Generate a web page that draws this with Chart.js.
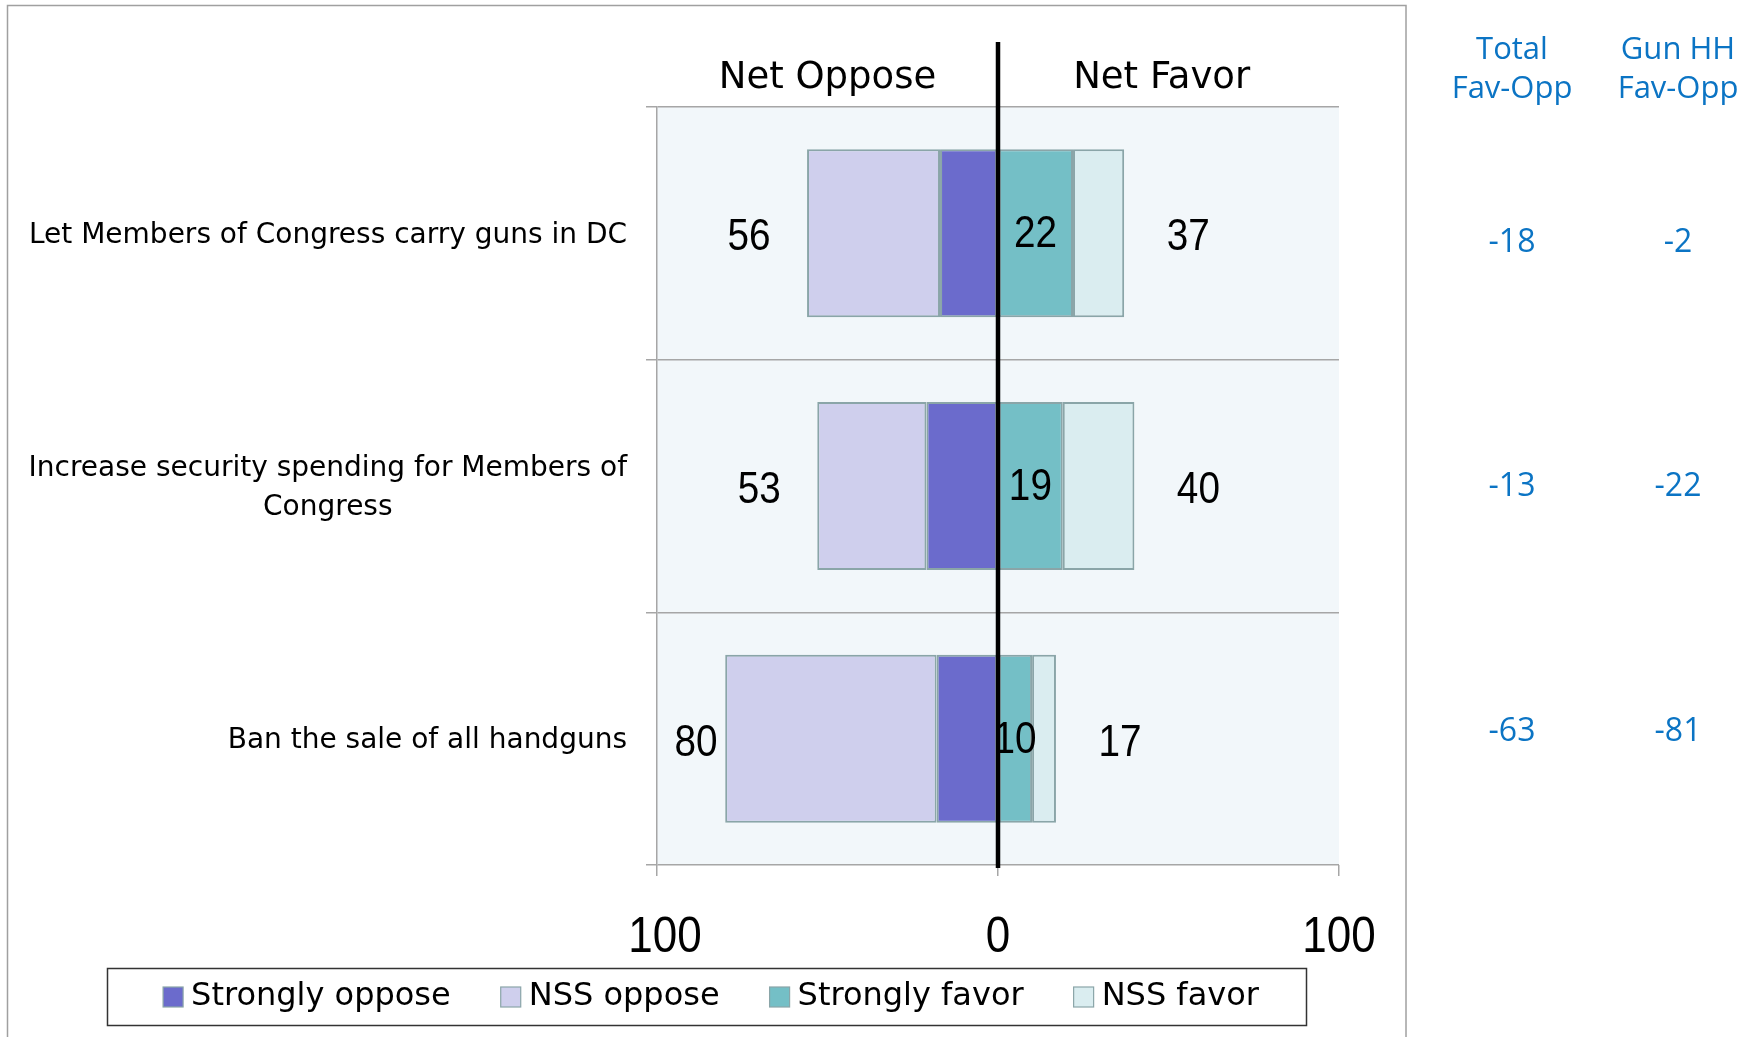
<!DOCTYPE html>
<html>
<head>
<meta charset="utf-8">
<script src="https://cdn.jsdelivr.net/npm/chart.js@4/dist/chart.umd.min.js"></script>
<style>
html,body{margin:0;padding:0;background:#fff;overflow:hidden}
canvas{display:block}
</style>
</head>
<body>
<canvas id="c" width="1754" height="1037"></canvas>
<script>
// ---- data ----
const categories = [
  ["Let Members of Congress carry guns in DC"],
  ["Increase security spending for Members of", "Congress"],
  ["Ban the sale of all handguns"]
];
const stronglyOppose = [17, 21, 18];
const nssOppose = [39, 32, 62];
const stronglyFavor = [22, 19, 10];
const nssFavor = [15, 21, 7];
const totalFavOpp = [-18, -13, -63];
const gunHHFavOpp = [-2, -22, -81];
const seriesNames = ["Strongly oppose", "NSS oppose", "Strongly favor", "NSS favor"];
const xTickValues = [-100, 0, 100];
const sideHeaders = ["Net Oppose", "Net Favor"];
const columnHeaders = [["Total", "Fav-Opp"], ["Gun HH", "Fav-Opp"]];

// ---- style ----
const TXT = '"DejaVu Sans", Verdana, sans-serif';
const NUM = '"Liberation Sans", Arial, sans-serif';
const NUM_SX = 0.88; // horizontal condensing for narrow numerals
const BLUEF = '"Open Sans", "DejaVu Sans", sans-serif';
const colors = ["#6B6BCC", "#CFCFED", "#74BFC6", "#DAEDF0"];
const barBorder = "#8AA5A8";
const gridColor = "#A6A6A6";

const datasets = [
  { label: seriesNames[0], data: stronglyOppose.map(v => -v), backgroundColor: colors[0] },
  { label: seriesNames[1], data: nssOppose.map(v => -v), backgroundColor: colors[1] },
  { label: seriesNames[2], data: stronglyFavor.slice(), backgroundColor: colors[2] },
  { label: seriesNames[3], data: nssFavor.slice(), backgroundColor: colors[3] }
].map(d => Object.assign(d, {
  borderColor: barBorder, borderWidth: 2, borderSkipped: false, stack: "s",
  categoryPercentage: 1.0, barPercentage: 0.665
}));

function narrowText(ctx, s, x, y) {
  ctx.save();
  ctx.translate(x, y);
  ctx.scale(NUM_SX, 1);
  ctx.fillText(s, 0, 0);
  ctx.restore();
}

const decorPlugin = {
  id: "decor",
  beforeDraw(chart) {
    const ctx = chart.ctx, ca = chart.chartArea;
    ctx.save();
    ctx.fillStyle = "#fff";
    ctx.fillRect(0, 0, chart.width, chart.height);
    ctx.strokeStyle = "#A0A0A0";
    ctx.lineWidth = 1.5;
    ctx.strokeRect(7.5, 5.5, 1398.5, 1045);
    ctx.fillStyle = "#F2F7FA";
    ctx.fillRect(ca.left, ca.top, ca.right - ca.left, ca.bottom - ca.top);
    ctx.restore();
  },
  afterDraw(chart) {
    const ctx = chart.ctx, ca = chart.chartArea;
    const xs = chart.scales.x, ys = chart.scales.y;
    ctx.save();
    ctx.fillStyle = "#000";
    ctx.textBaseline = "middle";

    // side headers
    ctx.font = "37px " + TXT;
    ctx.textAlign = "center";
    ctx.fillText(sideHeaders[0], xs.getPixelForValue(-50), 78);
    ctx.fillText(sideHeaders[1], xs.getPixelForValue(48), 78);

    // category labels
    ctx.font = "28px " + TXT;
    categories.forEach((lines, i) => {
      const yc = ys.getPixelForValue(i) + 2;
      const w = Math.max(...lines.map(l => ctx.measureText(l).width));
      const cx = 627 - w / 2;
      const lh = 39;
      lines.forEach((l, j) => {
        ctx.textAlign = "center";
        ctx.fillText(l, cx, yc + (j - (lines.length - 1) / 2) * lh);
      });
    });

    // x tick labels (narrow numerals), positioned by the x scale
    ctx.font = "50px " + NUM;
    ctx.textAlign = "center";
    const tickY = ca.bottom + 11 + 28 + 34;
    xs.ticks.forEach(t => {
      let px = xs.getPixelForValue(t.value);
      if (t.value === xs.min) px += 8;
      narrowText(ctx, String(Math.abs(t.value)), px, tickY);
    });

    // value labels
    ctx.font = "44px " + NUM;
    for (let i = 0; i < categories.length; i++) {
      const yc = ys.getPixelForValue(i) + 5;
      const opp = stronglyOppose[i] + nssOppose[i];
      const fav = stronglyFavor[i] + nssFavor[i];
      const xo = Math.max(xs.getPixelForValue(-opp) - 58, ca.left + 39);
      narrowText(ctx, String(opp), xo, yc);
      narrowText(ctx, String(fav), xs.getPixelForValue(fav) + 64, yc);
      narrowText(ctx, String(stronglyFavor[i]), xs.getPixelForValue(stronglyFavor[i] / 2), yc - 3);
    }

    // zero line
    const x0 = xs.getPixelForValue(0);
    ctx.strokeStyle = "#000";
    ctx.lineWidth = 4.5;
    ctx.beginPath();
    ctx.moveTo(x0, 42);
    ctx.lineTo(x0, ca.bottom + 3);
    ctx.stroke();

    // right columns
    ctx.fillStyle = "#0B74C4";
    ctx.font = "31px " + BLUEF;
    const colX = [1512, 1678];
    columnHeaders.forEach((h, k) => {
      ctx.fillText(h[0], colX[k], 50);
      ctx.fillText(h[1], colX[k], 89);
    });
    ctx.font = "32px " + BLUEF;
    const mid = ys.getPixelForValue((categories.length - 1) / 2);
    [totalFavOpp, gunHHFavOpp].forEach((arr, k) => {
      arr.forEach((v, i) => {
        const yc = ys.getPixelForValue(i);
        ctx.fillText(String(v), colX[k], mid + (yc - mid) * 0.968 + 1);
      });
    });

    // legend
    const lx0 = 107, ly0 = 968, lw = 1199, lh2 = 57;
    ctx.strokeStyle = "#333";
    ctx.lineWidth = 1.5;
    ctx.strokeRect(lx0 + 0.5, ly0 + 0.5, lw, lh2);
    ctx.font = "32px " + TXT;
    const box = 20, gapIn = 8, gapOut = 50;
    const items = chart.data.datasets.map(d => ({ label: d.label, color: d.backgroundColor, w: ctx.measureText(d.label).width }));
    const total = items.reduce((s, it) => s + box + gapIn + it.w, 0) + gapOut * (items.length - 1);
    let x = 711 - total / 2;
    const ym = ly0 + lh2 / 2 + 0.5;
    ctx.textAlign = "left";
    items.forEach(it => {
      ctx.fillStyle = it.color;
      ctx.fillRect(x, ym - box / 2, box, box);
      ctx.strokeStyle = barBorder;
      ctx.lineWidth = 1.2;
      ctx.strokeRect(x, ym - box / 2, box, box);
      ctx.fillStyle = "#000";
      ctx.fillText(it.label, x + box + gapIn, ym);
      x += box + gapIn + it.w + gapOut;
    });
    ctx.restore();
  }
};

new Chart(document.getElementById("c"), {
  type: "bar",
  data: { labels: categories.map(l => l.join(" ")), datasets },
  options: {
    indexAxis: "y",
    responsive: false,
    animation: false,
    devicePixelRatio: 1,
    layout: { padding: { left: 646, right: 415, top: 107, bottom: 45 } },
    plugins: { legend: { display: false }, tooltip: { enabled: false } },
    scales: {
      x: {
        type: "linear", min: -100, max: 100, stacked: true,
        afterBuildTicks: s => { s.ticks = xTickValues.map(v => ({ value: v })); },
        ticks: {
          callback: v => String(Math.abs(v)),
          font: { family: NUM, size: 50 }, color: "rgba(0,0,0,0)", padding: 28, maxRotation: 0, autoSkip: false
        },
        grid: { drawOnChartArea: false, drawTicks: true, tickLength: 11, color: gridColor, lineWidth: 1.5 },
        border: { display: false }
      },
      y: {
        type: "category", stacked: true, offset: true,
        ticks: { display: false },
        grid: { offset: true, color: gridColor, lineWidth: 1.5, tickLength: 11, drawTicks: true },
        border: { display: true, color: gridColor, width: 1.5 }
      }
    }
  },
  plugins: [decorPlugin]
});
</script>
</body>
</html>
